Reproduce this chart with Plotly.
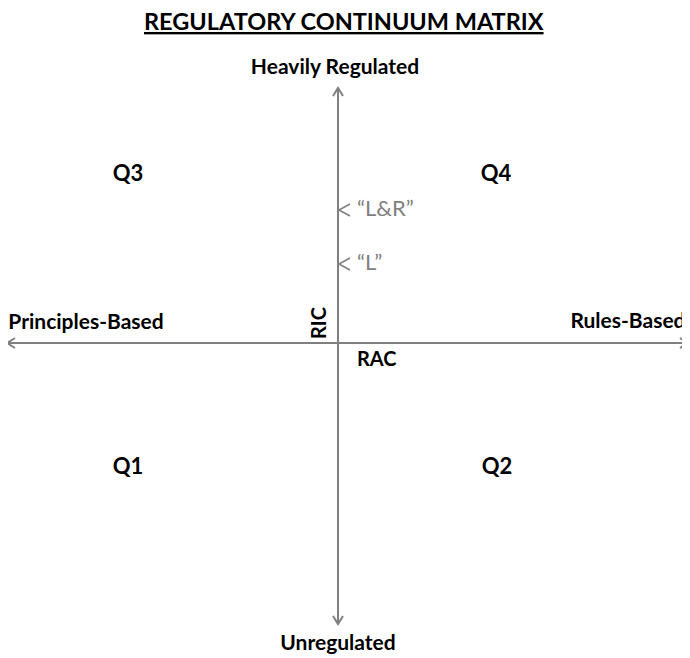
import plotly.graph_objects as go

# ---- data (diagram coordinates: origin at the axes crossing, y up) ----
title_text = "REGULATORY CONTINUUM MATRIX"
axis_names = ["Heavily Regulated", "Unregulated", "Principles-Based", "Rules-Based"]
axis_name_x = [-3, 0, -252, 290]
axis_name_y = [274, -302, 19, 20]

quadrant_names = ["Q1", "Q2", "Q3", "Q4"]
quadrant_x = [-210, 159, -210, 158]
quadrant_y = [-125, -125, 168, 168]

point_names = ["\u201cL&R\u201d", "\u201cL\u201d"]
point_y = [133, 79]

h_axis = [-331, 350]   # x extent of the horizontal arrow
v_axis = [-281, 255]   # y extent of the vertical arrow

GRAY = "#808080"
FONT = "Lato"

fig = go.Figure()

def arrow_line(x0, y0, x1, y1, head=8, half=5):
    # line plus open V head at (x1, y1)
    dx, dy = x1 - x0, y1 - y0
    L = (dx * dx + dy * dy) ** 0.5
    ux, uy = dx / L, dy / L
    px, py = -uy, ux
    bx, by = x1 - ux * head, y1 - uy * head
    xs = [x0, x1, None, bx + px * half, x1, bx - px * half]
    ys = [y0, y1, None, by + py * half, y1, by - py * half]
    return xs, ys

xs, ys = [], []
for (a, b) in [((0, 0), (h_axis[0], 0)), ((0, 0), (h_axis[1], 0)),
               ((0, 0), (0, v_axis[1])), ((0, 0), (0, v_axis[0]))]:
    ax, ay = arrow_line(a[0], a[1], b[0], b[1])
    xs += ax + [None]
    ys += ay + [None]

fig.add_trace(go.Scatter(x=xs, y=ys, mode="lines",
                         line=dict(color=GRAY, width=2),
                         hoverinfo="skip", showlegend=False))

# chevrons pointing at the vertical axis
cx, cy = [], []
for yv in point_y:
    cx += [12, 1, 12, None]
    cy += [yv + 6, yv, yv - 6, None]
fig.add_trace(go.Scatter(x=cx, y=cy, mode="lines",
                         line=dict(color=GRAY, width=1.5),
                         hoverinfo="skip", showlegend=False))

fig.add_trace(go.Scatter(x=[19] * len(point_y), y=point_y, mode="text",
                         text=point_names, textposition="middle right",
                         textfont=dict(family=FONT, size=22, color=GRAY),
                         hoverinfo="skip", showlegend=False))

fig.add_trace(go.Scatter(x=quadrant_x, y=quadrant_y, mode="text",
                         text=["<b>%s</b>" % q for q in quadrant_names],
                         textfont=dict(family=FONT, size=22, color="black"),
                         hoverinfo="skip", showlegend=False))

fig.add_trace(go.Scatter(x=axis_name_x, y=axis_name_y, mode="text",
                         text=["<b>%s</b>" % n for n in axis_names],
                         textfont=dict(family=FONT, size=21, color="black"),
                         hoverinfo="skip", showlegend=False))

fig.add_annotation(x=39, y=-15, text="<b>RAC</b>", showarrow=False,
                   font=dict(family=FONT, size=20, color="black"))
fig.add_annotation(x=-20, y=20, text="<b>RIC</b>", showarrow=False, textangle=-90,
                   font=dict(family=FONT, size=20, color="black"))

fig.add_annotation(x=6, y=322, text="<u><b>%s</b></u>" % title_text, showarrow=False,
                   font=dict(family=FONT, size=23.5, color="black"), borderpad=0)

# the page places the figure 8 px in from the window corner
fig.update_layout(
    width=690, height=658,
    margin=dict(l=0, r=0, t=0, b=0),
    plot_bgcolor="white", paper_bgcolor="white",
    xaxis=dict(range=[-330, 360], visible=False, fixedrange=True),
    yaxis=dict(range=[-323, 335], visible=False, fixedrange=True),
)

fig.write_html("out.html")
